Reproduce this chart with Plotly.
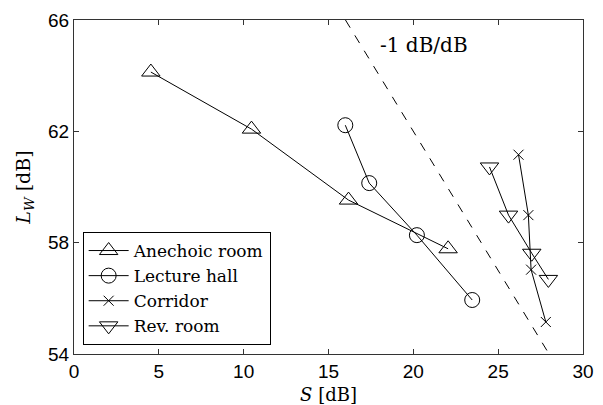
import plotly.graph_objects as go

# Data
anechoic_S = [4.53, 10.46, 16.18, 22.05]
anechoic_L = [64.13, 62.08, 59.53, 57.78]
lecture_S = [15.99, 17.40, 20.21, 23.47]
lecture_L = [62.22, 60.14, 58.27, 55.94]
corridor_S = [26.20, 26.78, 26.94, 27.81]
corridor_L = [61.16, 58.99, 57.03, 55.15]
rev_S = [24.49, 25.61, 26.98, 27.96]
rev_L = [60.72, 58.99, 57.62, 56.68]
ref_S = [16.0, 28.0]
ref_L = [66.0, 54.0]

x_ticks = [0, 5, 10, 15, 20, 25, 30]
y_ticks = [54, 58, 62, 66]

serif = "DejaVu Serif"
sans = "Liberation Sans"

fig = go.Figure()

fig.add_trace(go.Scatter(x=ref_S, y=ref_L, mode="lines",
                         line=dict(color="black", width=1, dash="dash"),
                         showlegend=False, hoverinfo="skip"))

def add_series(xs, ys, name, symbol, size):
    fig.add_trace(go.Scatter(
        x=xs, y=ys, mode="lines+markers", name=name,
        line=dict(color="black", width=1),
        marker=dict(symbol=symbol, size=size, color="black",
                    line=dict(color="black", width=1)),
    ))

add_series(anechoic_S, anechoic_L, "Anechoic room", "triangle-up-open", 16)
add_series(lecture_S, lecture_L, "Lecture hall", "circle-open", 15)
add_series(corridor_S, corridor_L, "Corridor", "x-thin-open", 10)
add_series(rev_S, rev_L, "Rev. room", "triangle-down-open", 16)

fig.add_annotation(x=17.93, y=65.1, text="-1 dB/dB", showarrow=False,
                   xanchor="left", yanchor="middle",
                   font=dict(family=serif, size=20, color="black"))

axis_common = dict(showgrid=False, zeroline=False, showline=True,
                   linecolor="#333", linewidth=1, mirror="allticks",
                   ticks="inside", ticklen=5, tickcolor="#333",
                   automargin=False,
                   tickfont=dict(family=sans, size=19, color="black"))

fig.update_xaxes(range=[0, 30], tickvals=x_ticks,
                 title=dict(text="<i>S</i> [dB]", standoff=10,
                            font=dict(family=serif, size=18, color="black")),
                 **axis_common)
fig.update_yaxes(range=[54, 66], tickvals=y_ticks,
                 title=dict(text="<i>L</i><sub><i>W</i></sub> [dB]", standoff=12,
                            font=dict(family=serif, size=19, color="black")),
                 **axis_common)

# page body has an 8px margin, so the figure is sized to fit the window
fig.update_layout(
    width=595, height=397, autosize=False,
    margin=dict(l=66, r=20, t=12, b=51, autoexpand=False),
    plot_bgcolor="white", paper_bgcolor="white",
    legend=dict(x=0.017, y=0.027, xanchor="left", yanchor="bottom",
                bgcolor="white", bordercolor="black", borderwidth=1,
                font=dict(family=serif, size=17, color="black"),
                tracegroupgap=0, itemwidth=40),
)

fig.write_html("out.html")
